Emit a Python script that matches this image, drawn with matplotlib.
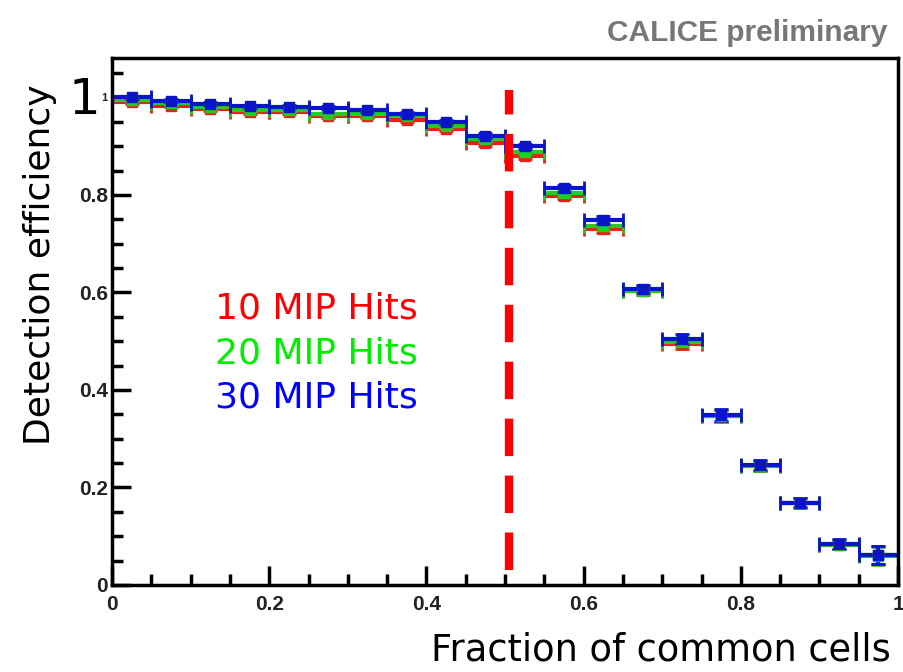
"""
Detection efficiency vs fraction of common cells (CALICE preliminary)
"""

import numpy as np
import matplotlib
matplotlib.use("Agg")
from matplotlib import pyplot as plt
from matplotlib.ticker import MultipleLocator

# bin edges (20 bins of 0.05)
bin_lo = [0.00, 0.05, 0.10, 0.15, 0.20, 0.25, 0.30, 0.35, 0.40, 0.45,
          0.50, 0.55, 0.60, 0.65, 0.70, 0.75, 0.80, 0.85, 0.90, 0.95]
bin_hi = [0.05, 0.10, 0.15, 0.20, 0.25, 0.30, 0.35, 0.40, 0.45, 0.50,
          0.55, 0.60, 0.65, 0.70, 0.75, 0.80, 0.85, 0.90, 0.95, 1.00]

eff_10 = [0.990, 0.983, 0.976, 0.970, 0.970, 0.961, 0.961, 0.954, 0.935, 0.906,
          0.879, 0.798, 0.730, 0.603, 0.494, 0.346, 0.244, 0.168, 0.083, 0.061]
eff_20 = [0.995, 0.988, 0.980, 0.975, 0.974, 0.967, 0.967, 0.961, 0.942, 0.914,
          0.889, 0.805, 0.736, 0.604, 0.498, 0.346, 0.244, 0.168, 0.083, 0.060]
eff_30 = [1.000, 0.993, 0.987, 0.982, 0.981, 0.979, 0.974, 0.966, 0.949, 0.922,
          0.900, 0.814, 0.748, 0.607, 0.504, 0.349, 0.246, 0.169, 0.084, 0.062]
eff_err = [0.003, 0.003, 0.003, 0.003, 0.003, 0.003, 0.003, 0.004, 0.004, 0.005,
           0.005, 0.007, 0.008, 0.009, 0.010, 0.012, 0.010, 0.010, 0.010, 0.018]

labels = ["10 MIP Hits", "20 MIP Hits", "30 MIP Hits"]
series_colors = ["#e8201a", "#22cc22", "#0a14c8"]
text_colors = ["#ff0000", "#00ee00", "#0000ff"]

tick_vals = [0, 0.2, 0.4, 0.6, 0.8, 1.0]
tick_text = ["0", "0.2", "0.4", "0.6", "0.8", "1"]

cut_x = 0.505
cut_y = [0.03, 1.015]


def drawSeries(ax, eff, color):
    lo = np.array(bin_lo)
    hi = np.array(bin_hi)
    x = 0.5 * (lo + hi)
    ax.errorbar(x, eff, xerr=0.5 * (hi - lo), yerr=eff_err,
                fmt="s", color=color, ms=7, lw=3, capsize=5, capthick=2,
                mec=color, clip_on=False)


plt.rcParams["lines.scale_dashes"] = False
fig = plt.figure(figsize=(9.04, 6.72), dpi=100)
ax = fig.add_axes([0.1239, 0.1295, 0.8695, 0.7842])

for eff, col in zip([eff_10, eff_20, eff_30], series_colors):
    drawSeries(ax, eff, col)

# cut line
ax.plot([cut_x, cut_x], cut_y, color="#ff0000", lw=6, dashes=(27, 14),
        solid_capstyle="butt", dash_capstyle="butt")

ax.set_xlim(0, 1)
ax.set_ylim(0, 1.081)
ax.xaxis.set_minor_locator(MultipleLocator(0.05))
ax.yaxis.set_minor_locator(MultipleLocator(0.05))
ax.tick_params(which="both", direction="in", width=2.5, top=False, right=False)
ax.tick_params(which="major", length=14)
ax.tick_params(which="minor", length=8)
ax.tick_params(axis="x", pad=7)
ax.tick_params(axis="y", pad=3)
for sp in ax.spines.values():
    sp.set_linewidth(2.5)

ax.set_xticks(tick_vals)
ax.set_xticklabels(tick_text)
ax.set_yticks(tick_vals)
ax.set_yticklabels(tick_text)
for lab in ax.get_xticklabels() + ax.get_yticklabels():
    lab.set_family("Liberation Sans")
    lab.set_fontweight("bold")
    lab.set_fontsize(15)
    lab.set_color("#222222")
ax.get_yticklabels()[-1].set_fontsize(8)

# legend as coloured text
for i, (txt, col) in enumerate(zip(labels, text_colors)):
    ax.text(0.131, 0.525 - i * 0.085, txt, color=col, fontsize=26,
            family="DejaVu Sans", transform=ax.transAxes, va="center")

fig.text(0.044, 0.606, "Detection efficiency", rotation=90, fontsize=26,
         family="DejaVu Sans", ha="center", va="center")
fig.text(0.985, 0.005, "Fraction of common cells", fontsize=26.5,
         family="DejaVu Sans", ha="right", va="bottom")
fig.text(0.1115, 0.851, "1", fontsize=36, family="DejaVu Sans",
         ha="right", va="center")
fig.text(0.982, 0.951, "CALICE preliminary", fontsize=21.5, fontweight="bold",
         family="Liberation Sans", color="#777777", ha="right", va="center")

plt.savefig("out.png", dpi=100)
